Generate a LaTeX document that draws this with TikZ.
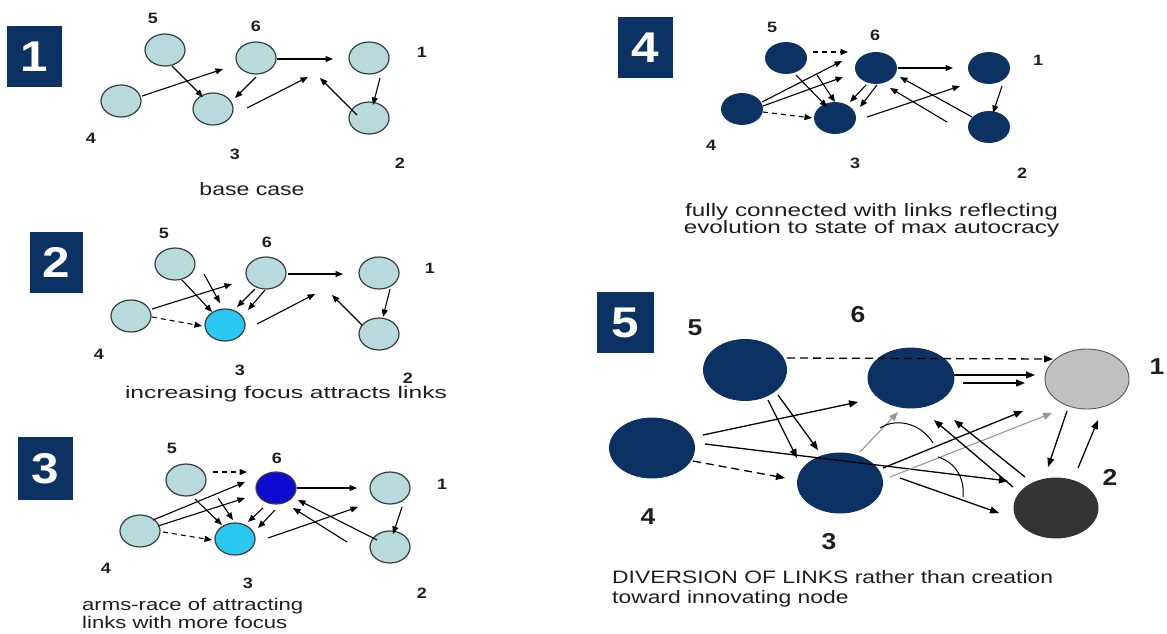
\documentclass[tikz,border=0pt]{standalone}
\usepackage{fontspec}
\setmainfont{Liberation Sans}
\usetikzlibrary{shapes.geometric,arrows.meta,calc}
\newcommand{\sx}[2]{\scalebox{#1}[1]{#2}}
\definecolor{navy}{RGB}{12,50,100}
\definecolor{palec}{RGB}{184,218,220}
\definecolor{cyanf}{RGB}{40,200,240}
\definecolor{blue6}{RGB}{15,10,210}
\definecolor{lgray}{RGB}{192,192,192}
\definecolor{dgray}{RGB}{52,52,52}
\definecolor{edgec}{RGB}{55,62,62}
\definecolor{garrc}{RGB}{150,150,150}
\definecolor{txtc}{RGB}{30,30,30}
\begin{document}
\begin{tikzpicture}[x=1pt,y=-1pt,
  nd/.style={ellipse, inner sep=0, line width=0.9pt},
  sm/.style={nd, minimum width=40pt, minimum height=32pt},
  pal/.style={sm, draw=edgec, fill=palec, line width=1.2pt},
  pfour/.style={nd, minimum width=41pt, minimum height=31pt, fill=navy, draw=navy},
  bignd/.style={nd, minimum width=84pt, minimum height=60pt},
  arr/.style={-{Triangle[length=7.5pt,width=6pt]}, line width=1.1pt},
  darr/.style={arr, dash pattern=on 5pt off 4pt},
  barr/.style={-{Triangle[length=9pt,width=7pt]}, line width=1.3pt},
  bdarr/.style={barr, dash pattern=on 8pt off 5pt},
  garr/.style={barr, color=garrc, line width=1.1pt},
  lbl/.style={inner sep=0, text=txtc, font=\fontsize{15}{15}\selectfont\bfseries},
  blbl/.style={inner sep=0, text=txtc, font=\fontsize{23}{23}\selectfont\bfseries},
  captxt/.style={inner sep=0, text=txtc, font=\fontsize{18}{18}\selectfont, anchor=base},
  boxn/.style={fill=navy, text=white, inner sep=0, font=\fontsize{43}{43}\selectfont\bfseries, minimum width=55pt, minimum height=61pt}
]
\useasboundingbox (0,0) rectangle (1167,633);

% ---------------- panel 1 ----------------
\node[boxn] (box1) at (34.5,56.5) {\sx{1.15}{1}};
\node[pal] (a5) at (165,50) {};
\node[pal] (a6) at (256,58) {};
\node[pal] (a1) at (369,58) {};
\node[pal] (a4) at (121,101) {};
\node[pal] (a3) at (213,109) {};
\node[pal] (a2) at (369,118) {};
\node[lbl] (la5) at (153,18) {\sx{1.2}{5}};
\node[lbl] (la6) at (256,26) {\sx{1.2}{6}};
\node[lbl] (la1) at (422,52) {\sx{1.2}{1}};
\node[lbl] (la4) at (91,138) {\sx{1.2}{4}};
\node[lbl] (la3) at (235,154) {\sx{1.2}{3}};
\node[lbl] (la2) at (400,163) {\sx{1.2}{2}};
\node[captxt] (cap1) at (252,195) {\sx{1.28}{base case}};
\draw[arr] ($(a4)+(21,-5)$) -- ($(a6)+(-33,11)$);
\draw[arr] ($(a5)+(7,16)$) -- ($(a3)+(-10,-12)$);
\draw[arr] ($(a6)+(0,19)$) -- ($(a3)+(22,-11)$);
\draw[arr] ($(a6)+(21,1)$) -- ($(a1)+(-36,1)$);
\draw[arr] ($(a3)+(34,-1)$) -- ($(a1)+(-61,19)$);
\draw[arr] ($(a2)+(-12,-3)$) -- ($(a1)+(-49,20)$);
\draw[arr] ($(a1)+(11,20)$) -- ($(a2)+(4,-13)$);

% ---------------- panel 2 ----------------
\node[boxn, minimum width=53pt] (box2) at (56.5,262.5) {\sx{1.15}{2}};
\node[pal] (b5) at (175,264) {};
\node[pal] (b6) at (266,273) {};
\node[pal] (b1) at (379,273) {};
\node[pal] (b4) at (131,316) {};
\node[pal, fill=cyanf] (b3) at (225,325) {};
\node[pal] (b2) at (379,334) {};
\node[lbl] (lb5) at (164,233) {\sx{1.2}{5}};
\node[lbl] (lb6) at (267,242) {\sx{1.2}{6}};
\node[lbl] (lb1) at (430,268) {\sx{1.2}{1}};
\node[lbl] (lb4) at (99,354) {\sx{1.2}{4}};
\node[lbl] (lb3) at (240,370) {\sx{1.2}{3}};
\node[lbl] (lb2) at (408,378) {\sx{1.2}{2}};
\node[captxt, font=\fontsize{17}{17}\selectfont] (cap2) at (286,398) {\sx{1.45}{increasing focus attracts links}};
\draw[arr] ($(b4)+(21,-7)$) -- ($(b6)+(-34,11)$);
\draw[darr] ($(b4)+(21,1)$) -- ($(b3)+(-23,1)$);
\draw[arr] ($(b5)+(7,16)$) -- ($(b3)+(-13,-13)$);
\draw[arr] ($(b5)+(29,10)$) -- ($(b3)+(-5,-22)$);
\draw[arr] ($(b6)+(-11,16)$) -- ($(b3)+(12,-18)$);
\draw[arr] ($(b6)+(-1,17)$) -- ($(b3)+(23,-15)$);
\draw[arr] ($(b3)+(32,-1)$) -- ($(b1)+(-64,21)$);
\draw[arr] ($(b6)+(22,1)$) -- ($(b1)+(-36,1)$);
\draw[arr] ($(b2)+(-17,-9)$) -- ($(b1)+(-47,22)$);
\draw[arr] ($(b1)+(11,16)$) -- ($(b2)+(4,-17)$);

% ---------------- panel 3 ----------------
\node[boxn, minimum height=63pt] (box3) at (45.5,468.5) {\sx{1.15}{3}};
\node[pal] (c5) at (186,480) {};
\node[pal, fill=blue6] (c6) at (276,488) {};
\node[pal] (c1) at (390,488) {};
\node[pal] (c4) at (140,531) {};
\node[pal, fill=cyanf] (c3) at (235,539) {};
\node[pal] (c2) at (390,547) {};
\node[lbl] (lc5) at (172,448) {\sx{1.2}{5}};
\node[lbl] (lc6) at (277,458) {\sx{1.2}{6}};
\node[lbl] (lc1) at (442,484) {\sx{1.2}{1}};
\node[lbl] (lc4) at (106,568) {\sx{1.2}{4}};
\node[lbl] (lc3) at (248,583) {\sx{1.2}{3}};
\node[lbl] (lc2) at (422,593) {\sx{1.2}{2}};
\node[captxt, anchor=base west, font=\fontsize{17}{18}\selectfont] (cap3) at (82,610)
  {\sx{1.3}{\begin{tabular}[t]{@{}l@{}}arms-race of attracting\\links with more focus\end{tabular}}};
\draw[darr] ($(c5)+(27,-8)$) -- ($(c6)+(-29,-16)$);
\draw[arr] ($(c4)+(13,-11)$) -- ($(c6)+(-31,-6)$);
\draw[arr] ($(c4)+(18,-5)$) -- ($(c6)+(-31,10)$);
\draw[darr] ($(c4)+(23,1)$) -- ($(c3)+(-23,1)$);
\draw[arr] ($(c5)+(9,19)$) -- ($(c3)+(-13,-14)$);
\draw[arr] ($(c5)+(32,18)$) -- ($(c3)+(-2,-19)$);
\draw[arr] ($(c6)+(-13,20)$) -- ($(c3)+(13,-17)$);
\draw[arr] ($(c6)+(-1,22)$) -- ($(c3)+(23,-11)$);
\draw[arr] ($(c6)+(21,0)$) -- ($(c1)+(-33,0)$);
\draw[arr] ($(c3)+(33,-1)$) -- ($(c1)+(-32,19)$);
\draw[arr] ($(c2)+(-43,-5)$) -- ($(c6)+(17,20)$);
\draw[arr] ($(c2)+(-13,-7)$) -- ($(c6)+(22,12)$);
\draw[arr] ($(c1)+(12,19)$) -- ($(c2)+(3,-13)$);

% ---------------- panel 4 ----------------
\node[boxn] (box4) at (645.5,47.5) {\sx{1.15}{4}};
\node[pfour] (d5) at (786,58) {};
\node[pfour] (d6) at (876,68) {};
\node[pfour] (d1) at (989,68) {};
\node[pfour] (d4) at (742,109) {};
\node[pfour] (d3) at (835,118) {};
\node[pfour] (d2) at (989,127) {};
\node[lbl] (ld5) at (772,27) {\sx{1.2}{5}};
\node[lbl] (ld6) at (875,35) {\sx{1.2}{6}};
\node[lbl] (ld1) at (1038,60) {\sx{1.2}{1}};
\node[lbl] (ld4) at (711,145) {\sx{1.2}{4}};
\node[lbl] (ld3) at (855,163) {\sx{1.2}{3}};
\node[lbl] (ld2) at (1022,173) {\sx{1.2}{2}};
\node[captxt, font=\fontsize{18}{14.7}\selectfont] (cap4) at (871.5,216)
  {\sx{1.35}{\begin{tabular}[t]{@{}c@{}}fully connected with links reflecting\\evolution to state of max autocracy\end{tabular}}};
\draw[darr] ($(d5)+(27,-6)$) -- ($(d6)+(-28,-16)$);
\draw[arr] ($(d4)+(20,-7)$) -- ($(d6)+(-34,-7)$);
\draw[arr] ($(d4)+(21,-3)$) -- ($(d6)+(-33,9)$);
\draw[darr] ($(d4)+(21,3)$) -- ($(d3)+(-23,0)$);
\draw[arr] ($(d5)+(10,17)$) -- ($(d3)+(-8,-11)$);
\draw[arr] ($(d5)+(31,17)$) -- ($(d3)+(0,-16)$);
\draw[arr] ($(d6)+(-10,17)$) -- ($(d3)+(15,-16)$);
\draw[arr] ($(d6)+(1,17)$) -- ($(d3)+(25,-11)$);
\draw[arr] ($(d6)+(22,0)$) -- ($(d1)+(-36,0)$);
\draw[arr] ($(d3)+(32,-1)$) -- ($(d1)+(-29,18)$);
\draw[arr] ($(d2)+(-42,-5)$) -- ($(d6)+(14,20)$);
\draw[arr] ($(d2)+(-17,-10)$) -- ($(d6)+(24,9)$);
\draw[arr] ($(d1)+(13,18)$) -- ($(d2)+(4,-14)$);

% ---------------- panel 5 ----------------
\node[boxn, minimum width=57pt] (box5) at (625.5,322.5) {\sx{1.15}{5}};
\node[bignd, fill=navy, draw=navy, minimum width=83pt, minimum height=61pt] (e5) at (745,370) {};
\node[bignd, fill=navy, draw=navy, minimum width=86pt] (e6) at (911,378) {};
\node[bignd, fill=lgray, draw=black!65] (e1) at (1087,379) {};
\node[bignd, fill=navy, draw=navy, minimum width=85pt] (e4) at (652,448) {};
\node[bignd, fill=navy, draw=navy, minimum width=85pt] (e3) at (840,483) {};
\node[bignd, fill=dgray, draw=black!80] (e2) at (1056,508) {};
\node[blbl] (le5) at (695,328) {\sx{1.15}{5}};
\node[blbl] (le6) at (858,315) {\sx{1.15}{6}};
\node[blbl] (le1) at (1157,367) {\sx{1.15}{1}};
\node[blbl] (le4) at (648,517) {\sx{1.15}{4}};
\node[blbl] (le3) at (829,542) {\sx{1.15}{3}};
\node[blbl] (le2) at (1110,477) {\sx{1.15}{2}};
\node[captxt, anchor=base west, font=\fontsize{18}{20}\selectfont] (cap5) at (612,583)
  {\sx{1.27}{\begin{tabular}[t]{@{}l@{}}DIVERSION OF LINKS rather than creation\\toward innovating node\end{tabular}}};
\draw[bdarr] ($(e5)+(42,-12)$) -- ($(e1)+(-34,-20)$);
\draw[barr] ($(e6)+(43,-3)$) -- ($(e1)+(-52,-4)$);
\draw[barr] ($(e6)+(52,5)$) -- ($(e1)+(-62,4)$);
\draw[barr] ($(e4)+(51,-13)$) -- ($(e6)+(-53,24)$);
\draw[barr] ($(e4)+(53,-4)$) -- ($(e2)+(-48,-27)$);
\draw[bdarr] ($(e4)+(41,13)$) -- ($(e3)+(-55,-5)$);
\draw[barr] ($(e5)+(23,30)$) -- ($(e3)+(-43,-25)$);
\draw[barr] ($(e5)+(33,25)$) -- ($(e3)+(-22,-33)$);
\draw[garr] ($(e3)+(20,-31)$) -- ($(e6)+(-13,34)$);
\draw[garr] ($(e3)+(50,-6)$) -- ($(e1)+(-35,34)$);
\draw[barr] ($(e3)+(43,-15)$) -- ($(e1)+(-64,32)$);
\draw[barr] ($(e3)+(60,-5)$) -- ($(e2)+(-57,5)$);
\draw[barr] ($(e2)+(-43,-21)$) -- ($(e6)+(23,42)$);
\draw[barr] ($(e2)+(-31,-31)$) -- ($(e6)+(43,42)$);
\draw[barr] ($(e1)+(-20,32)$) -- ($(e2)+(-8,-41)$);
\draw[barr] ($(e2)+(22,-40)$) -- ($(e1)+(11,41)$);
\draw[line width=1pt] ($(e3)+(40,-55)$) .. controls ($(e3)+(55,-65)$) and ($(e3)+(80,-61)$) .. ($(e3)+(93,-40)$);
\draw[line width=1pt] ($(e3)+(98,-26)$) .. controls ($(e3)+(115,-21)$) and ($(e3)+(125,-5)$) .. ($(e3)+(123,14)$);
\end{tikzpicture}
\end{document}
